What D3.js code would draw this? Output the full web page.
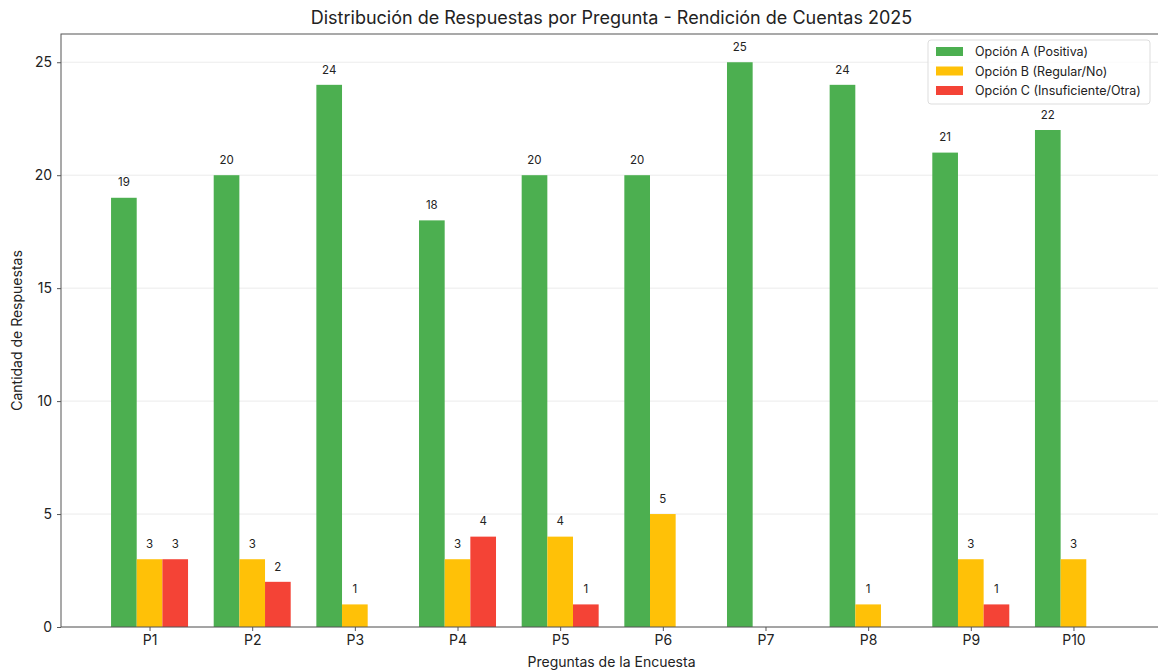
<!DOCTYPE html>
<html><head><meta charset="utf-8">
<script src="https://cdn.jsdelivr.net/npm/d3@7"></script>
<style>body{margin:0;background:#fff;}svg{display:block;font-family:"Inter","Noto Sans",sans-serif;}</style>
</head><body><svg id="c" width="1158" height="672"></svg>
<script>
const categories = ["P1","P2","P3","P4","P5","P6","P7","P8","P9","P10"];
const seriesNames = ["Opción A (Positiva)","Opción B (Regular/No)","Opción C (Insuficiente/Otra)"];
const optionA = [19,20,24,18,20,20,25,24,21,22];
const optionB = [3,3,1,3,4,5,0,1,3,3];
const optionC = [3,2,0,4,1,0,0,0,1,0];
const yTicks = [0,5,10,15,20,25];
const colors = ["#4caf50","#ffc107","#f44336"];
const title = "Distribución de Respuestas por Pregunta - Rendición de Cuentas 2025";
const xTitle = "Preguntas de la Encuesta";
const yTitle = "Cantidad de Respuestas";

const svg = d3.select("#c");
const L = 61, R = 1162, T = 34, B = 627;
const x = d3.scaleLinear().domain([-0.8625, 9.8625]).range([L, R]);
const y = d3.scaleLinear().domain([0, 26.25]).range([B, T]);
const bw = 0.25;
const series = [optionA, optionB, optionC];
const ff = "Inter, Noto Sans, sans-serif";

// grid
svg.append("g").selectAll("line").data(yTicks).join("line")
  .attr("x1", L).attr("x2", R).attr("y1", d => y(d)).attr("y2", d => y(d))
  .attr("stroke", "#e6e6e6").attr("stroke-width", 0.8);

// bars
series.forEach((vals, si) => {
  const off = (si - 1) * bw;
  const g = svg.append("g");
  g.selectAll("rect").data(vals.map((v, i) => ({v, i}))).join("rect")
    .attr("x", d => x(d.i + off - bw / 2))
    .attr("width", d => x(bw) - x(0))
    .attr("y", d => y(d.v))
    .attr("height", d => y(0) - y(d.v))
    .attr("fill", colors[si]);
  g.selectAll("text").data(vals.map((v, i) => ({v, i})).filter(d => d.v > 0)).join("text")
    .attr("x", d => x(d.i + off))
    .attr("y", d => y(d.v + 0.5))
    .attr("text-anchor", "middle")
    .attr("font-size", 11.5).attr("fill", "#222")
    .text(d => d.v);
});

// spines
svg.append("rect").attr("x", L).attr("y", T).attr("width", R - L).attr("height", B - T)
  .attr("fill", "none").attr("stroke", "#555").attr("stroke-width", 1);

// x axis
const xa = svg.append("g").attr("transform", `translate(0,${B})`)
  .call(d3.axisBottom(x).tickValues(d3.range(categories.length)).tickFormat(i => categories[i]).tickSize(4).tickPadding(4));
xa.select(".domain").remove();
xa.selectAll("line").attr("stroke", "#555");
xa.selectAll("text").attr("font-size", 14).attr("fill", "#222").attr("font-family", ff);

// y axis
const ya = svg.append("g").attr("transform", `translate(${L},0)`)
  .call(d3.axisLeft(y).tickValues(yTicks).tickSize(4).tickPadding(5));
ya.select(".domain").remove();
ya.selectAll("line").attr("stroke", "#555");
ya.selectAll("text").attr("font-size", 14).attr("fill", "#222").attr("font-family", ff);

// titles
svg.append("text").attr("x", (L + R) / 2).attr("y", 24).attr("text-anchor", "middle")
  .attr("font-size", 18).attr("fill", "#222").text(title);
svg.append("text").attr("x", (L + R) / 2).attr("y", 667).attr("text-anchor", "middle")
  .attr("font-size", 14).attr("fill", "#222").text(xTitle);
svg.append("text").attr("transform", `translate(22,${(T + B) / 2}) rotate(-90)`).attr("text-anchor", "middle")
  .attr("font-size", 14).attr("fill", "#222").text(yTitle);

// legend
const lg = svg.append("g").attr("transform", "translate(928,40)");
lg.append("rect").attr("width", 222).attr("height", 64).attr("rx", 3)
  .attr("fill", "rgba(255,255,255,0.8)").attr("stroke", "#ddd");
seriesNames.forEach((n, i) => {
  lg.append("rect").attr("x", 8).attr("y", 7 + i * 19.5).attr("width", 27).attr("height", 9).attr("fill", colors[i]);
  lg.append("text").attr("x", 47).attr("y", 16 + i * 19.5).attr("font-size", 12.5).attr("fill", "#222").text(n);
});
</script></body></html>
